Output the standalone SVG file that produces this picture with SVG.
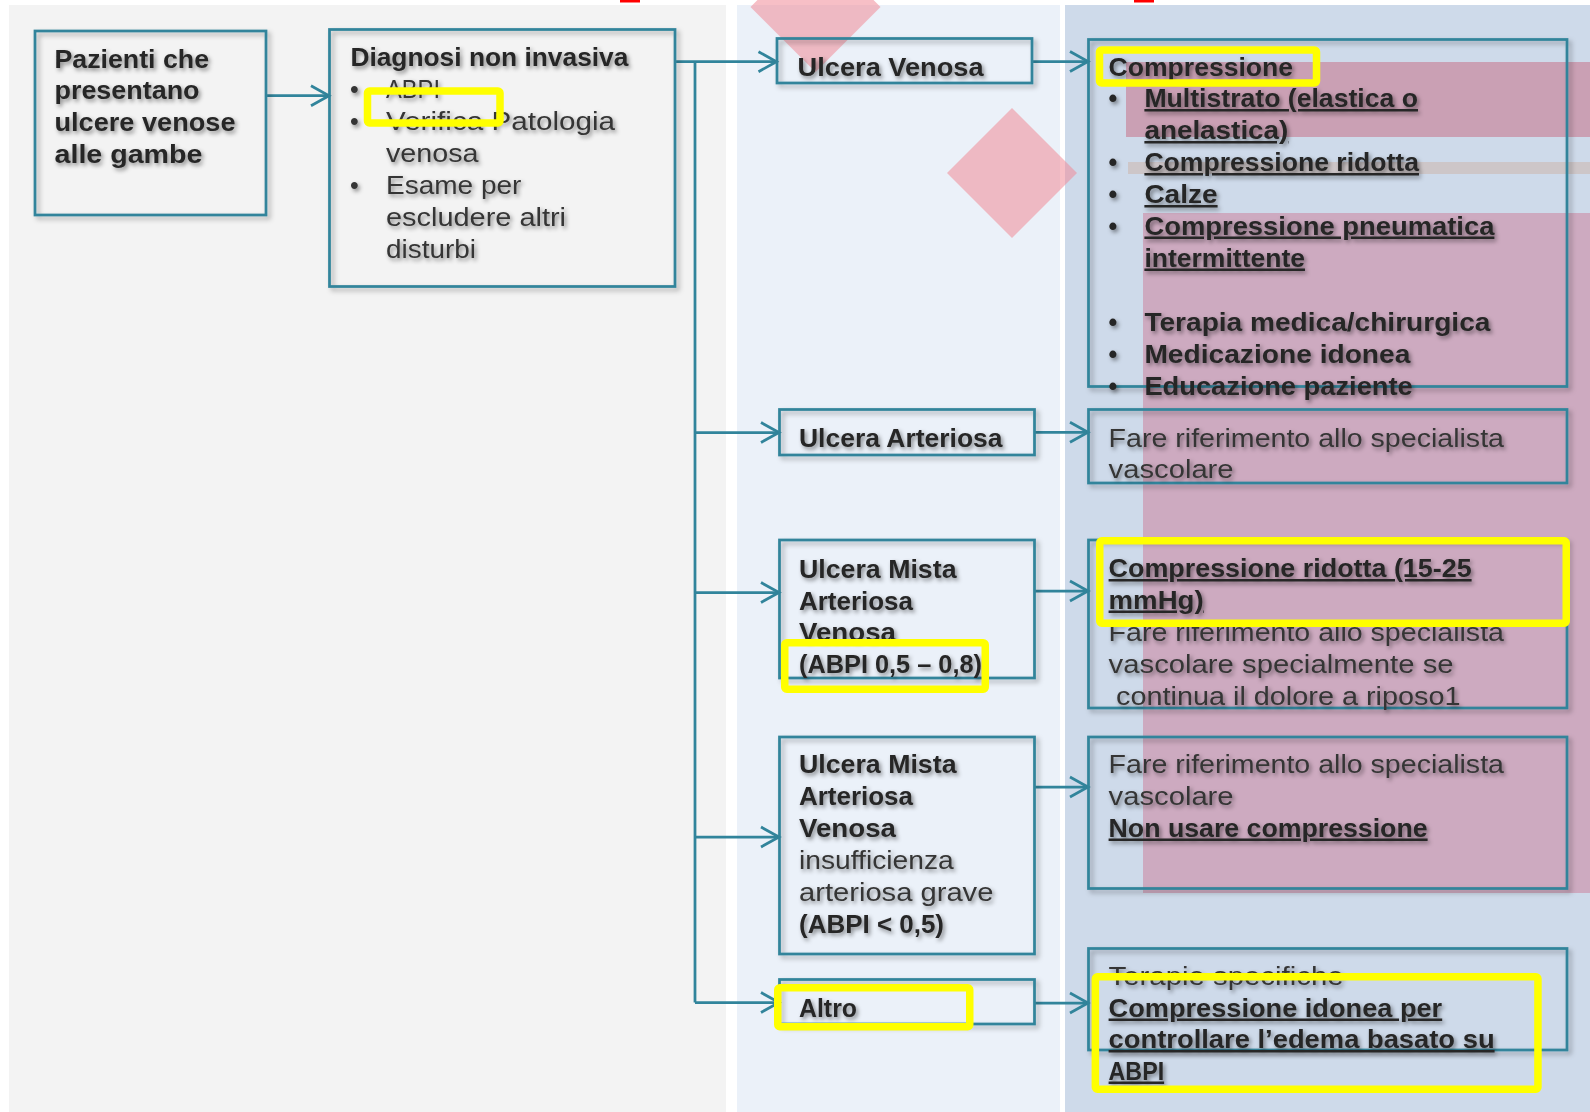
<svg xmlns="http://www.w3.org/2000/svg" width="1590" height="1112" viewBox="0 0 1590 1112">
<defs>
<style>
.t{font-family:"Liberation Sans",Arial,sans-serif;font-size:25px;filter:url(#ts);transform:translate(0px,1.5px)}
.b{font-weight:700;fill:#262626}
.n{font-weight:400;fill:#363636}
.u{text-decoration:underline}
.box{fill:none;stroke:#31849b;stroke-width:2.75;filter:url(#bs)}
.yel{fill:none;stroke:#ffff00;stroke-width:7.5}
.conn{fill:none;stroke:#31849b;stroke-width:2.75;marker-end:url(#arr)}
.trunk{fill:none;stroke:#31849b;stroke-width:2.75}
</style>
<filter id="ts" filterUnits="userSpaceOnUse" x="0" y="0" width="1590" height="1112">
<feDropShadow dx="2" dy="2.5" stdDeviation="2" flood-color="#000" flood-opacity="0.45"/>
</filter>
<filter id="bs" filterUnits="userSpaceOnUse" x="0" y="0" width="1590" height="1112">
<feDropShadow dx="3" dy="3" stdDeviation="2.5" flood-color="#000" flood-opacity="0.3"/>
</filter>
<marker id="arr" markerUnits="userSpaceOnUse" markerWidth="40" markerHeight="40" refX="0" refY="0" orient="auto" viewBox="-30 -20 40 40" overflow="visible">
<path d="M-18,-10 L0,0 L-18,10" fill="none" stroke="#31849b" stroke-width="2.75"/>
</marker>
</defs>

<rect x="0" y="0" width="1590" height="1112" fill="#ffffff"/>
<g id="background">
<rect x="9" y="5" width="717" height="1107" fill="#f3f3f3"/>
<rect x="737" y="5" width="323" height="1107" fill="#ebf1f9"/>
<rect x="1065" y="5" width="525" height="1107" fill="#cedaea"/>
<rect x="1126" y="62" width="464" height="75" fill="#caa0b4"/>
<rect x="1128" y="162" width="462" height="12" fill="#cdc6c8"/>
<rect x="1143" y="213" width="447" height="680" fill="#cdaac0"/>
<rect x="620" y="0" width="20" height="2.5" fill="#ff0000"/>
<rect x="1134" y="0" width="20" height="2.5" fill="#ff0000"/>
<polygon points="815.5,-58 880.5,7 815.5,72 750.5,7" fill="#f08a98" opacity="0.55"/>
<polygon points="1012,108 1077,173 1012,238 947,173" fill="#f08a98" opacity="0.55"/>
</g>

<g id="connectors">
<line class="conn" x1="266" y1="95.7" x2="329" y2="95.7"/>
<line class="conn" x1="675" y1="61.7" x2="776.5" y2="61.7"/>
<line class="trunk" x1="695" y1="61.7" x2="695" y2="1002.5"/>
<line class="conn" x1="695" y1="432.5" x2="779" y2="432.5"/>
<line class="conn" x1="695" y1="592.5" x2="779" y2="592.5"/>
<line class="conn" x1="695" y1="837" x2="779" y2="837"/>
<line class="conn" x1="695" y1="1002.5" x2="779" y2="1002.5"/>
<line class="conn" x1="1032" y1="61.5" x2="1088" y2="61.5"/>
<line class="conn" x1="1034" y1="432.3" x2="1088" y2="432.3"/>
<line class="conn" x1="1034" y1="591" x2="1088" y2="591"/>
<line class="conn" x1="1034" y1="787" x2="1088" y2="787"/>
<line class="conn" x1="1034" y1="1003" x2="1088" y2="1003"/>
</g>

<g id="n-pazienti">
<rect class="box" x="35" y="31" width="231" height="184"/>
<text class="t b" x="54.5" y="66" textLength="154.5" lengthAdjust="spacingAndGlyphs">Pazienti che</text>
<text class="t b" x="54.5" y="97.5" textLength="145" lengthAdjust="spacingAndGlyphs">presentano</text>
<text class="t b" x="54.5" y="129.5" textLength="181" lengthAdjust="spacingAndGlyphs">ulcere venose</text>
<text class="t b" x="54.5" y="161" textLength="148" lengthAdjust="spacingAndGlyphs">alle gambe</text>
</g>

<g id="n-diagnosi">
<rect class="box" x="329.5" y="29.5" width="345.5" height="257"/>
<text class="t b" x="350.4" y="64" textLength="278" lengthAdjust="spacingAndGlyphs">Diagnosi non invasiva</text>
<text class="t n" x="350" y="96">•</text>
<text class="t n" x="386" y="96" textLength="54" lengthAdjust="spacingAndGlyphs">ABPI</text>
<text class="t n" x="350" y="128">•</text>
<text class="t n" x="386" y="128" textLength="229" lengthAdjust="spacingAndGlyphs">Verifica Patologia</text>
<text class="t n" x="386" y="160" textLength="92.6" lengthAdjust="spacingAndGlyphs">venosa</text>
<text class="t n" x="350" y="192">•</text>
<text class="t n" x="386" y="192" textLength="135.4" lengthAdjust="spacingAndGlyphs">Esame per</text>
<text class="t n" x="386" y="224" textLength="180" lengthAdjust="spacingAndGlyphs">escludere altri</text>
<text class="t n" x="386" y="256" textLength="90" lengthAdjust="spacingAndGlyphs">disturbi</text>
<rect class="yel" x="367.5" y="91" width="132.5" height="32" rx="2"/>
</g>

<g id="n-venosa">
<rect class="box" x="777" y="38.5" width="255" height="44.5"/>
<text class="t b" x="797.6" y="74" textLength="186" lengthAdjust="spacingAndGlyphs">Ulcera Venosa</text>
</g>

<g id="n-arteriosa">
<rect class="box" x="779.5" y="409.5" width="255" height="45.5"/>
<text class="t b" x="799" y="445.5" textLength="203.5" lengthAdjust="spacingAndGlyphs">Ulcera Arteriosa</text>
</g>

<g id="n-mista1">
<rect class="box" x="779.5" y="540" width="255" height="138"/>
<text class="t b" x="799" y="576.5" textLength="157.5" lengthAdjust="spacingAndGlyphs">Ulcera Mista</text>
<text class="t b" x="799" y="608" textLength="114" lengthAdjust="spacingAndGlyphs">Arteriosa</text>
<text class="t b" x="799" y="639.5" textLength="97" lengthAdjust="spacingAndGlyphs">Venosa</text>
<text class="t b" x="799" y="671" textLength="183" lengthAdjust="spacingAndGlyphs">(ABPI 0,5 – 0,8)</text>
<rect class="yel" x="784.75" y="642.75" width="200.5" height="46.5" rx="2"/>
</g>

<g id="n-mista2">
<rect class="box" x="779.5" y="737" width="255" height="217"/>
<text class="t b" x="799" y="771.5" textLength="157.5" lengthAdjust="spacingAndGlyphs">Ulcera Mista</text>
<text class="t b" x="799" y="803" textLength="114" lengthAdjust="spacingAndGlyphs">Arteriosa</text>
<text class="t b" x="799" y="835" textLength="97" lengthAdjust="spacingAndGlyphs">Venosa</text>
<text class="t n" x="799" y="867.5" textLength="154.7" lengthAdjust="spacingAndGlyphs">insufficienza</text>
<text class="t n" x="799" y="899.5" textLength="194.4" lengthAdjust="spacingAndGlyphs">arteriosa grave</text>
<text class="t b" x="799" y="931" textLength="145" lengthAdjust="spacingAndGlyphs">(ABPI &lt; 0,5)</text>
</g>

<g id="n-altro">
<rect class="box" x="779.5" y="979.5" width="255" height="44.5"/>
<text class="t b" x="799" y="1015" textLength="58" lengthAdjust="spacingAndGlyphs">Altro</text>
<rect class="yel" x="777.75" y="987.75" width="192" height="39" rx="2"/>
</g>

<g id="n-compressione">
<rect class="box" x="1088.5" y="39.5" width="478.5" height="347"/>
<text class="t b" x="1108.6" y="74" textLength="184.5" lengthAdjust="spacingAndGlyphs">Compressione</text>
<text class="t b" x="1108.6" y="105.5">•</text>
<text class="t b u" x="1144.4" y="105.5" textLength="273.6" lengthAdjust="spacingAndGlyphs">Multistrato (elastica o</text>
<text class="t b u" x="1144.4" y="137.5" textLength="144" lengthAdjust="spacingAndGlyphs">anelastica)</text>
<text class="t b" x="1108.6" y="169.5">•</text>
<text class="t b u" x="1144.4" y="169.5" textLength="274.6" lengthAdjust="spacingAndGlyphs">Compressione ridotta</text>
<text class="t b" x="1108.6" y="201.5">•</text>
<text class="t b u" x="1144.4" y="201.5" textLength="73.2" lengthAdjust="spacingAndGlyphs">Calze</text>
<text class="t b" x="1108.6" y="233">•</text>
<text class="t b u" x="1144.4" y="233" textLength="350" lengthAdjust="spacingAndGlyphs">Compressione pneumatica</text>
<text class="t b u" x="1144.4" y="265" textLength="160.6" lengthAdjust="spacingAndGlyphs">intermittente</text>
<text class="t b" x="1108.6" y="329">•</text>
<text class="t b" x="1144.4" y="329" textLength="346" lengthAdjust="spacingAndGlyphs">Terapia medica/chirurgica</text>
<text class="t b" x="1108.6" y="361.5">•</text>
<text class="t b" x="1144.4" y="361.5" textLength="266" lengthAdjust="spacingAndGlyphs">Medicazione idonea</text>
<text class="t b" x="1108.6" y="393">•</text>
<text class="t b" x="1144.4" y="393" textLength="268.4" lengthAdjust="spacingAndGlyphs">Educazione paziente</text>
<rect class="yel" x="1099.5" y="50" width="217" height="33" rx="2"/>
</g>

<g id="n-specialista1">
<rect class="box" x="1088.5" y="409.5" width="478.5" height="73.5"/>
<text class="t n" x="1108.6" y="445.5" textLength="395.4" lengthAdjust="spacingAndGlyphs">Fare riferimento allo specialista</text>
<text class="t n" x="1108.6" y="476.5" textLength="125" lengthAdjust="spacingAndGlyphs">vascolare</text>
</g>

<g id="n-ridotta">
<rect class="box" x="1088.5" y="540" width="478.5" height="168"/>
<text class="t b u" x="1108.6" y="575.5" textLength="363" lengthAdjust="spacingAndGlyphs">Compressione ridotta (15-25</text>
<text class="t b u" x="1108.6" y="607" textLength="95" lengthAdjust="spacingAndGlyphs">mmHg)</text>
<text class="t n" x="1108.6" y="639" textLength="395.4" lengthAdjust="spacingAndGlyphs">Fare riferimento allo specialista</text>
<text class="t n" x="1108.6" y="671.5" textLength="345" lengthAdjust="spacingAndGlyphs">vascolare specialmente se</text>
<text class="t n" x="1116" y="703" textLength="344.5" lengthAdjust="spacingAndGlyphs">continua il dolore a riposo1</text>
<rect class="yel" x="1099.75" y="540.75" width="466.5" height="82.5" rx="2"/>
</g>

<g id="n-specialista2">
<rect class="box" x="1088.5" y="737" width="478.5" height="151.5"/>
<text class="t n" x="1108.6" y="771.5" textLength="395.4" lengthAdjust="spacingAndGlyphs">Fare riferimento allo specialista</text>
<text class="t n" x="1108.6" y="803" textLength="125" lengthAdjust="spacingAndGlyphs">vascolare</text>
<text class="t b u" x="1108.6" y="835" textLength="319" lengthAdjust="spacingAndGlyphs">Non usare compressione</text>
</g>

<g id="n-terapie">
<rect class="box" x="1088.5" y="948.5" width="478.5" height="101.5"/>
<text class="t n" x="1108.6" y="983" textLength="235" lengthAdjust="spacingAndGlyphs">Terapie specifiche</text>
<text class="t b u" x="1108.6" y="1015" textLength="333.6" lengthAdjust="spacingAndGlyphs">Compressione idonea per</text>
<text class="t b u" x="1108.6" y="1046.5" textLength="386" lengthAdjust="spacingAndGlyphs">controllare l’edema basato su</text>
<text class="t b u" x="1108.6" y="1078" textLength="55.5" lengthAdjust="spacingAndGlyphs">ABPI</text>
<rect class="yel" x="1095.35" y="976.75" width="442.6" height="112.5" rx="2"/>
</g>
</svg>
